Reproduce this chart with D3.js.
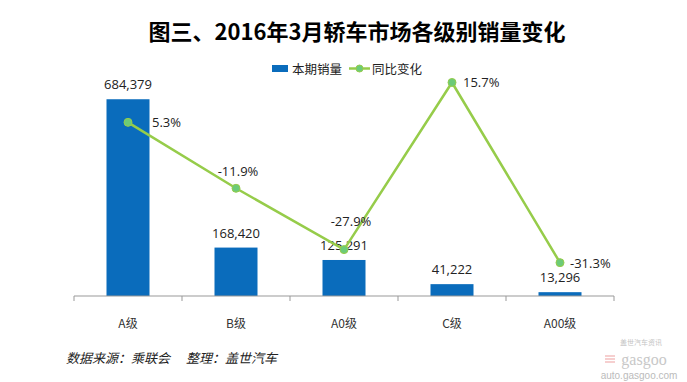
<!DOCTYPE html>
<html><head><meta charset="utf-8">
<script src="https://cdn.jsdelivr.net/npm/d3@7/dist/d3.min.js"></script>
<style>body{margin:0;background:#fff}svg{display:block}</style>
</head><body><div id="chart"></div>
<script>
const categories = ["A级", "B级", "A0级", "C级", "A00级"];
const sales = [684379, 168420, 125291, 41222, 13296];
const yoy = [5.3, -11.9, -27.9, 15.7, -31.3];
const salesDomain = [0, 800000];
const yoyDomain = [-40, 20];
const title = "图三、2016年3月轿车市场各级别销量变化";
const seriesNames = ["本期销量", "同比变化"];
const footnote = ["数据来源：乘联会", "整理：盖世汽车"];

(function () {
const W = 687, H = 382;
const svg = d3.select("#chart").append("svg").attr("width", W).attr("height", H);
const font = "'Noto Sans CJK SC','Microsoft YaHei',sans-serif";
const pLeft = 74, pRight = 614, base = 296, pTop = 66;

const xc = d3.scaleBand().domain(categories).range([pLeft, pRight]);
const y = d3.scaleLinear().domain(salesDomain).range([base, pTop]);
const y2 = d3.scaleLinear().domain(yoyDomain).range([base, pTop]);

svg.append("text").attr("x", 357).attr("y", 40).attr("text-anchor", "middle")
  .attr("font-family", font).attr("font-weight", "bold").attr("font-size", 22)
  .attr("fill", "#000").text(title);

// bars
svg.selectAll("rect.bar").data(sales).join("rect").attr("class", "bar")
  .attr("x", (d, i) => xc(categories[i]) + xc.bandwidth() / 2 - 21.5)
  .attr("width", 43)
  .attr("y", d => y(d)).attr("height", d => base - y(d))
  .attr("fill", "#0a6cbc");

// axis
const axis = d3.axisBottom(xc).tickSize(5).tickFormat("");
const ag = svg.append("g").attr("transform", `translate(0,${base})`).call(axis);
ag.select(".domain").attr("stroke", "#999").attr("d", `M${pLeft},0H${pRight}`);
ag.selectAll(".tick").remove();
const edges = d3.range(categories.length + 1).map(i => pLeft + i * xc.step());
ag.selectAll("line.edge").data(edges).join("line").attr("class", "edge")
  .attr("x1", d => d).attr("x2", d => d).attr("y1", 0).attr("y2", 5).attr("stroke", "#999");

svg.selectAll("text.cat").data(categories).join("text").attr("class", "cat")
  .attr("x", d => xc(d) + xc.bandwidth() / 2).attr("y", 322)
  .attr("text-anchor", "middle").attr("dominant-baseline", "central")
  .attr("font-family", font).attr("font-size", 12).attr("fill", "#333").text(d => d);

// bar labels
svg.selectAll("text.bl").data(sales).join("text").attr("class", "bl")
  .attr("x", (d, i) => xc(categories[i]) + xc.bandwidth() / 2)
  .attr("y", d => y(d) - 15)
  .attr("text-anchor", "middle").attr("dominant-baseline", "central")
  .attr("font-family", "'Open Sans',sans-serif").attr("font-size", 13).attr("fill", "#222")
  .text(d => d3.format(",")(d));

// line
const cx = i => xc(categories[i]) + xc.bandwidth() / 2;
const line = d3.line().x((d, i) => cx(i)).y(d => y2(d));
svg.append("path").datum(yoy).attr("d", line).attr("fill", "none")
  .attr("stroke", "#96cc4a").attr("stroke-width", 2.5);
svg.selectAll("circle.pt").data(yoy).join("circle").attr("class", "pt")
  .attr("cx", (d, i) => cx(i)).attr("cy", d => y2(d)).attr("r", 4)
  .attr("fill", "#6ccb78").attr("stroke", "#96cc4a").attr("stroke-width", 1);

const lblPos = [
  {dx: 24, dy: 0, a: "start"},
  {dx: 2, dy: -17, a: "middle"},
  {dx: 7, dy: -29, a: "middle"},
  {dx: 11, dy: 0, a: "start"},
  {dx: 10, dy: 0, a: "start"}
];
svg.selectAll("text.ll").data(yoy).join("text").attr("class", "ll")
  .attr("x", (d, i) => cx(i) + lblPos[i].dx).attr("y", (d, i) => y2(d) + lblPos[i].dy)
  .attr("text-anchor", (d, i) => lblPos[i].a).attr("dominant-baseline", "central")
  .attr("font-family", "'Open Sans',sans-serif").attr("font-size", 13).attr("fill", "#222")
  .text(d => d.toFixed(1) + "%");

// legend
const lg = svg.append("g");
lg.append("rect").attr("x", 272).attr("y", 65).attr("width", 16).attr("height", 7).attr("fill", "#0a6cbc");
lg.append("text").attr("x", 292).attr("y", 68.5).attr("dominant-baseline", "central")
  .attr("font-family", font).attr("font-size", 12.5).attr("fill", "#222").text(seriesNames[0]);
lg.append("line").attr("x1", 349).attr("x2", 370).attr("y1", 68.5).attr("y2", 68.5)
  .attr("stroke", "#96cc4a").attr("stroke-width", 2.5);
lg.append("circle").attr("cx", 359.5).attr("cy", 68.5).attr("r", 3.5)
  .attr("fill", "#6ccb78").attr("stroke", "#96cc4a");
lg.append("text").attr("x", 372).attr("y", 68.5).attr("dominant-baseline", "central")
  .attr("font-family", font).attr("font-size", 12.5).attr("fill", "#222").text(seriesNames[1]);

// footnote
svg.append("text").attr("x", 66).attr("y", 357).attr("dominant-baseline", "central")
  .attr("font-family", font).attr("font-size", 13).attr("font-style", "italic")
  .attr("fill", "#222")
  .text(footnote[0] + "　 " + footnote[1]);

// watermark
svg.append("text").attr("x", 641).attr("y", 345).attr("text-anchor", "middle")
  .attr("font-family", font).attr("font-size", 7).attr("fill", "#c4c4c4").text("盖世汽车资讯");
svg.append("text").attr("x", 644).attr("y", 365).attr("text-anchor", "middle")
  .attr("font-family", "'Liberation Serif',serif").attr("font-size", 16).attr("fill", "#c8c8c8").text("gasgoo");
svg.append("text").attr("x", 639).attr("y", 379).attr("text-anchor", "middle")
  .attr("font-family", "'Liberation Sans',sans-serif").attr("font-size", 10).attr("fill", "#bbb").text("auto.gasgoo.com");
[356, 359, 362].forEach(yy => svg.append("line").attr("x1", 605).attr("x2", 615)
  .attr("y1", yy).attr("y2", yy).attr("stroke", "#f0b0b0").attr("stroke-width", 1.2));
})();
</script></body></html>
